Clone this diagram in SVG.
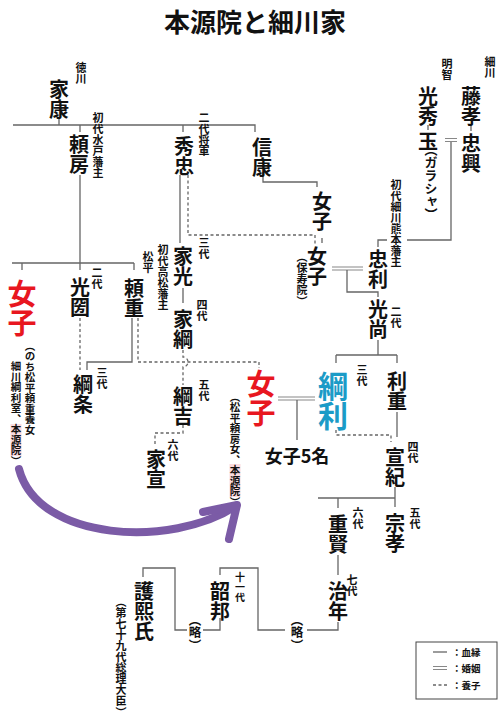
<svg xmlns="http://www.w3.org/2000/svg" width="500" height="723" viewBox="0 0 500 723">
<style>
text { font-family: "Noto Sans CJK JP", "Noto Sans CJK SC", sans-serif; fill: #111; }
.v { writing-mode: vertical-rl; }
.n { font-size: 20px; font-weight: bold; }
.s { font-size: 11px; font-weight: bold; }
.nt { font-weight: bold; }
.hp { font-feature-settings: "vhal" 1; }
.red { fill: #e8171f; font-size: 29px; font-weight: bold; }
.cyan { fill: #1b9bc7; font-size: 30px; font-weight: bold; }
.ln { fill: none; stroke: #666; stroke-width: 1.3; }
.ds { fill: none; stroke: #666; stroke-width: 1.3; stroke-dasharray: 3 2.5; }
.db { fill: none; stroke: #888; stroke-width: 1.2; }
.hl { fill: #fadadd; }
</style>
<rect width="500" height="723" fill="#fff"/>
<text x="255" y="32" text-anchor="middle" font-size="26" font-weight="bold">本源院と細川家</text>

<g id="connectors">
  <path class="ln" d="M13 125 H255 V132 M59 118 V125 M80 125 V132 M183 125 V132"/>
  <path class="ln" d="M80 175 V270 M12 263 H134 M22 263 V270 M134 263 V270"/>
  <path class="ln" d="M180 175 V243 M183 288 V303"/>
  <path class="ln" d="M263 172 V182 H317 V187 M322 238 V243"/>
  <path class="ln" d="M471 126 V131 M428 125 V130"/>
  <path class="db" d="M445 138.5 H457 M445 141.5 H457"/>
  <path class="ln" d="M451 142 V240 H407 M387 240 H378 V247"/>
  <path class="db" d="M332 267 H363 M332 270 H363"/>
  <path class="ln" d="M347 270 V292 H378 V297"/>
  <path class="ln" d="M378 340 V355 M336 355 H397 M336 355 V363 M397 355 V363"/>
  <path class="db" d="M278 397 H315 M278 400 H315"/>
  <path class="ln" d="M297 400 V440"/>
  <path class="ln" d="M397 412 V437"/>
  <path class="ln" d="M395 487 V507 M318 498 H395 M338 498 V508"/>
  <path class="ln" d="M338 555 V575"/>
  <path class="ln" d="M338 622 V630 H307 M285 630 H258 V568 H220 V575"/>
  <path class="ln" d="M220 618 V630 H203 M187 630 H175 V568 H143 V577"/>
  <path class="ln" d="M132 318 V362 H87 V370"/>
  <path class="ds" d="M188 175 V235 H315 V245"/>
  <path class="ds" d="M80 318 V370"/>
  <path class="ds" d="M138 318 V362 H259 V368"/>
  <path class="ds" d="M183 350 V357 A5 5 0 0 1 183 367 V385"/>
  <path class="ds" d="M183 425 V433 H155 V445"/>
  <path class="ds" d="M336 430 V435 H391 V442"/>
  <path d="M19 469 C38 542 172 548 236 506" fill="none" stroke="#7b5ba6" stroke-width="8" stroke-linecap="round"/>
  <path d="M203 512 L237 505 L229 539" fill="none" stroke="#7b5ba6" stroke-width="8" stroke-linecap="round" stroke-linejoin="round"/>
</g>

<g id="ieyasu"><text class="v n" x="59" y="79">家康</text><text class="v s" x="81" y="62">徳川</text></g>
<g id="yorifusa"><text class="v n" x="79" y="134">頼房</text><text class="v s" x="98" y="112">初代水戸藩主</text></g>
<g id="hidetada"><text class="v n" x="184" y="136">秀忠</text><text class="v s" x="204" y="112">二代将軍</text></g>
<g id="nobuyasu"><text class="v n" x="262" y="137">信康</text></g>
<g id="nyoshi1"><text class="v n" x="322" y="191">女子</text></g>
<g id="nyoshi2"><text class="v n" x="317" y="246">女子</text><text class="v s" x="302" y="257"><tspan class="hp">（</tspan>保寿院<tspan class="hp">）</tspan></text></g>
<g id="fujitaka"><text class="v n" x="471" y="86">藤孝</text><text class="v s" x="490" y="56">細川</text></g>
<g id="tadaoki"><text class="v n" x="471" y="133">忠興</text></g>
<g id="mitsuhide"><text class="v n" x="428" y="86">光秀</text><text class="v s" x="447" y="58">明智</text></g>
<g id="tama"><text class="v n" x="428" y="131">玉</text><text class="v" x="431" y="149" font-size="13" font-weight="bold"><tspan class="hp">（</tspan>ガラシャ<tspan class="hp">）</tspan></text></g>
<g id="tadatoshi"><text class="v n" x="378" y="249">忠利</text><text class="v s" x="396" y="179">初代細川熊本藩主</text></g>
<g id="mitsunao"><text class="v n" x="378" y="299">光尚</text><text class="v s" x="396" y="306">二代</text></g>
<g id="iemitsu"><text class="v n" x="183" y="246">家光</text><text class="v s" x="204" y="237">三代</text></g>
<g id="ietsuna"><text class="v n" x="183" y="309">家綱</text><text class="v s" x="202" y="299">四代</text></g>
<g id="tsunayoshi"><text class="v n" x="183" y="386">綱吉</text><text class="v s" x="204" y="379">五代</text></g>
<g id="ienobu"><text class="v n" x="156" y="449">家宣</text><text class="v s" x="173" y="439">六代</text></g>
<g id="mitsukuni"><text class="v n" x="80" y="277">光圀</text><text class="v s" x="97" y="267">二代</text></g>
<g id="yorishige"><text class="v n" x="134" y="278">頼重</text><text class="v s" x="148" y="251">松平</text><text class="v s" x="163" y="244">初代高松藩主</text></g>
<g id="tsunaeda"><text class="v n" x="83" y="374">綱条</text><text class="v s" x="102" y="367">三代</text></g>
<g id="nyoshi-red1">
  <text class="v red" x="22" y="279">女子</text>
  <rect class="hl" x="10.5" y="424" width="11" height="32"/>
  <text class="v nt" x="30" y="346" font-size="10.5"><tspan class="hp">（</tspan>のち松平頼重養女</text>
  <text class="v nt" x="16" y="361" font-size="10.5">細川綱利室、本源院<tspan class="hp">）</tspan></text>
</g>
<g id="nyoshi-red2">
  <text class="v red" x="261" y="369" font-size="30">女子</text>
  <rect class="hl" x="229.5" y="464" width="11" height="33"/>
  <text class="v nt" x="235" y="397" font-size="10.5"><tspan class="hp">（</tspan>松平頼房女、本源院<tspan class="hp">）</tspan></text>
</g>
<g id="tsunatoshi"><text class="v cyan" x="333" y="371">綱利</text><text class="v s" x="362" y="364">三代</text></g>
<g id="toshishige"><text class="v n" x="397" y="371">利重</text></g>
<g id="nyoshi5"><text x="297" y="463" text-anchor="middle" font-size="18" font-weight="bold">女子5名</text></g>
<g id="nobunori"><text class="v n" x="395" y="447">宣紀</text><text class="v s" x="413" y="441">四代</text></g>
<g id="shigekata"><text class="v n" x="338" y="514">重賢</text><text class="v s" x="358" y="507">六代</text></g>
<g id="munetaka"><text class="v n" x="395" y="513">宗孝</text><text class="v s" x="415" y="507">五代</text></g>
<g id="harutoshi"><text class="v n" x="338" y="581">治年</text><text class="v s" x="352" y="574">七代</text></g>
<g id="ryaku1"><text class="v" x="297" y="620" font-size="12.5" font-weight="bold"><tspan class="hp">（</tspan>略<tspan class="hp">）</tspan></text></g>
<g id="yoshikuni"><text class="v n" x="220" y="581">韶邦</text><text class="v" x="240" y="572" font-size="10" font-weight="bold">十一代</text></g>
<g id="ryaku2"><text class="v" x="195" y="620" font-size="12.5" font-weight="bold"><tspan class="hp">（</tspan>略<tspan class="hp">）</tspan></text></g>
<g id="morihiro"><text class="v n" x="144" y="581">護熙氏</text><text class="v s" x="121" y="602"><tspan class="hp">（</tspan>第七十九代総理大臣<tspan class="hp">）</tspan></text></g>

<g id="legend">
  <rect x="416" y="642" width="81" height="57" fill="#fff" stroke="#444" stroke-width="1"/>
  <path class="ln" d="M433 652 H447"/>
  <path class="db" d="M433 666.5 H447 M433 669.5 H447"/>
  <path class="ds" d="M433 685 H447"/>
  <text x="452" y="656" font-size="9.5" font-weight="bold">：血縁</text>
  <text x="452" y="672" font-size="9.5" font-weight="bold">：婚姻</text>
  <text x="452" y="689" font-size="9.5" font-weight="bold">：養子</text>
</g>
</svg>
